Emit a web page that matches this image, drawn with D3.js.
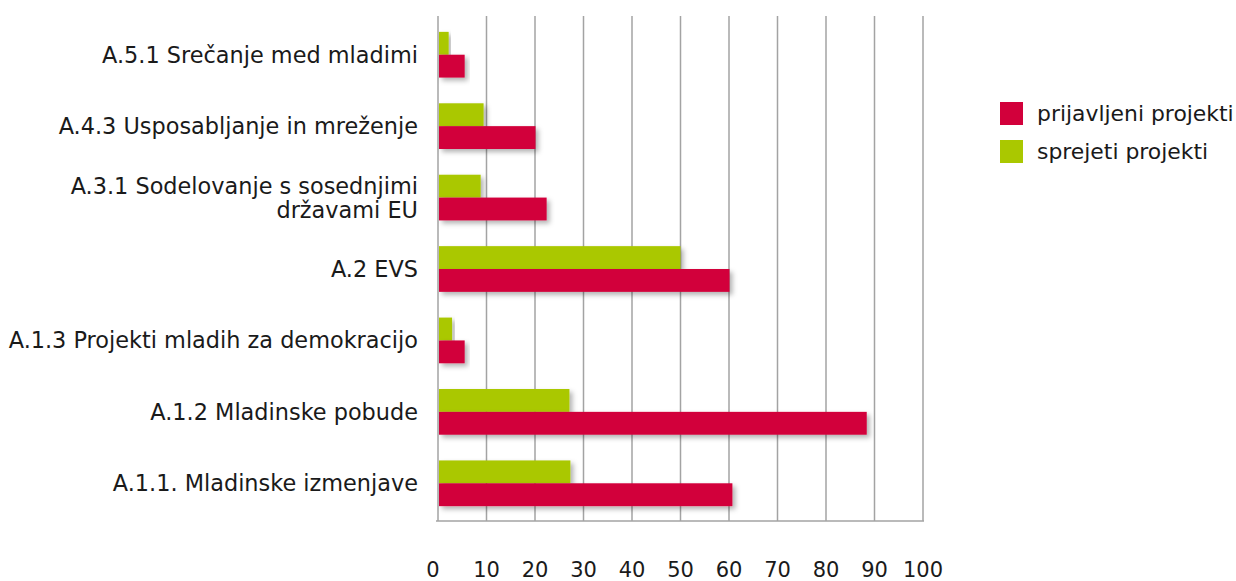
<!DOCTYPE html>
<html>
<head>
<meta charset="utf-8">
<script src="https://cdn.jsdelivr.net/npm/d3@7"></script>
<style>
  body { margin: 0; background: #fff; }
  svg text { font-family: "DejaVu Sans", sans-serif; fill: #1a1a1a; }
</style>
</head>
<body>
<svg id="chart" width="1236" height="581"></svg>
<script>
// categories, top to bottom
var categories = [
	"A.5.1 Srečanje med mladimi",
	"A.4.3 Usposabljanje in mreženje",
	"A.3.1 Sodelovanje s sosednjimi|državami EU",
	"A.2 EVS",
	"A.1.3 Projekti mladih za demokracijo",
	"A.1.2 Mladinske pobude",
	"A.1.1. Mladinske izmenjave"
];
var seriesNames = ["sprejeti projekti", "prijavljeni projekti"];
var legendNames = ["prijavljeni projekti", "sprejeti projekti"];
var sprejeti = [2.2, 9.4, 8.8, 50, 2.9, 27.1, 27.3];
var prijavljeni = [5.5, 20.1, 22.4, 60.1, 5.5, 88.4, 60.7];
var xTicks = [0, 10, 20, 30, 40, 50, 60, 70, 80, 90, 100];

var colors = { "prijavljeni projekti": "#d2003b", "sprejeti projekti": "#aac800" };

var rows = categories.map(function(c, i){
	return { cat: c, values: [
		{ key: "sprejeti projekti", v: sprejeti[i] },
		{ key: "prijavljeni projekti", v: prijavljeni[i] }
	]};
});

var svg = d3.select("#chart");
var plot = { left: 438, right: 923, top: 16, bottom: 521 };

var x = d3.scaleLinear().domain([0, 100]).range([plot.left, plot.right]);
var y = d3.scaleBand().domain(categories).range([19, 519]).paddingInner(0.36).paddingOuter(0.18);
var ySub = d3.scaleBand().domain(seriesNames).range([0, y.bandwidth()]);

var defs = svg.append("defs");
defs.append("filter").attr("id", "shadow")
	.attr("x", "-10%").attr("y", "-30%").attr("width", "130%").attr("height", "180%")
	.append("feDropShadow")
		.attr("dx", 3).attr("dy", 3).attr("stdDeviation", 2.5)
		.attr("flood-color", "#000").attr("flood-opacity", 0.3);

// gridlines
svg.append("g").selectAll("line")
	.data(xTicks)
	.enter().append("line")
		.attr("x1", function(d){ return x(d); })
		.attr("x2", function(d){ return x(d); })
		.attr("y1", plot.top)
		.attr("y2", plot.bottom)
		.attr("stroke", "#a3a3a3")
		.attr("stroke-width", 1.5);

// bottom axis line
svg.append("line")
	.attr("x1", plot.left - 2).attr("x2", plot.right + 1)
	.attr("y1", plot.bottom).attr("y2", plot.bottom)
	.attr("stroke", "#a3a3a3").attr("stroke-width", 1.5);

// bars
var groups = svg.append("g").selectAll("g")
	.data(rows)
	.enter().append("g")
		.attr("transform", function(d){ return "translate(0," + y(d.cat) + ")"; });

groups.selectAll("rect")
	.data(function(d){ return d.values; })
	.enter().append("rect")
		.attr("x", x(0) + 1)
		.attr("y", function(d){ return ySub(d.key); })
		.attr("width", function(d){ return x(d.v) - x(0) - 1; })
		.attr("height", ySub.bandwidth())
		.attr("fill", function(d){ return colors[d.key]; })
		.attr("filter", "url(#shadow)");

// category labels
svg.append("g").selectAll("text")
	.data(categories)
	.enter().append("text")
		.attr("text-anchor", "end")
		.attr("font-size", "22.4px")
		.each(function(d){
			var lines = d.split("|");
			var cy = y(d) + y.bandwidth() / 2;
			var t = d3.select(this);
			lines.forEach(function(l, i){
				t.append("tspan")
					.attr("x", 418)
					.attr("y", cy + 8 + (i - (lines.length - 1) / 2) * 24)
					.text(l);
			});
		});

// x tick labels
svg.append("g").selectAll("text")
	.data(xTicks)
	.enter().append("text")
		.attr("x", function(d){ return x(d) - (d === 0 ? 5 : 0); })
		.attr("y", 577)
		.attr("text-anchor", "middle")
		.attr("font-size", "21px")
		.text(function(d){ return d; });

// legend
var legend = svg.append("g").selectAll("g")
	.data(legendNames)
	.enter().append("g")
		.attr("transform", function(d, i){ return "translate(1000," + (102 + i * 38) + ")"; });
legend.append("rect")
	.attr("width", 23).attr("height", 23)
	.attr("fill", function(d){ return colors[d]; });
legend.append("text")
	.attr("x", 37).attr("y", 19)
	.attr("font-size", "21.9px")
	.text(function(d){ return d; });
</script>
</body>
</html>
